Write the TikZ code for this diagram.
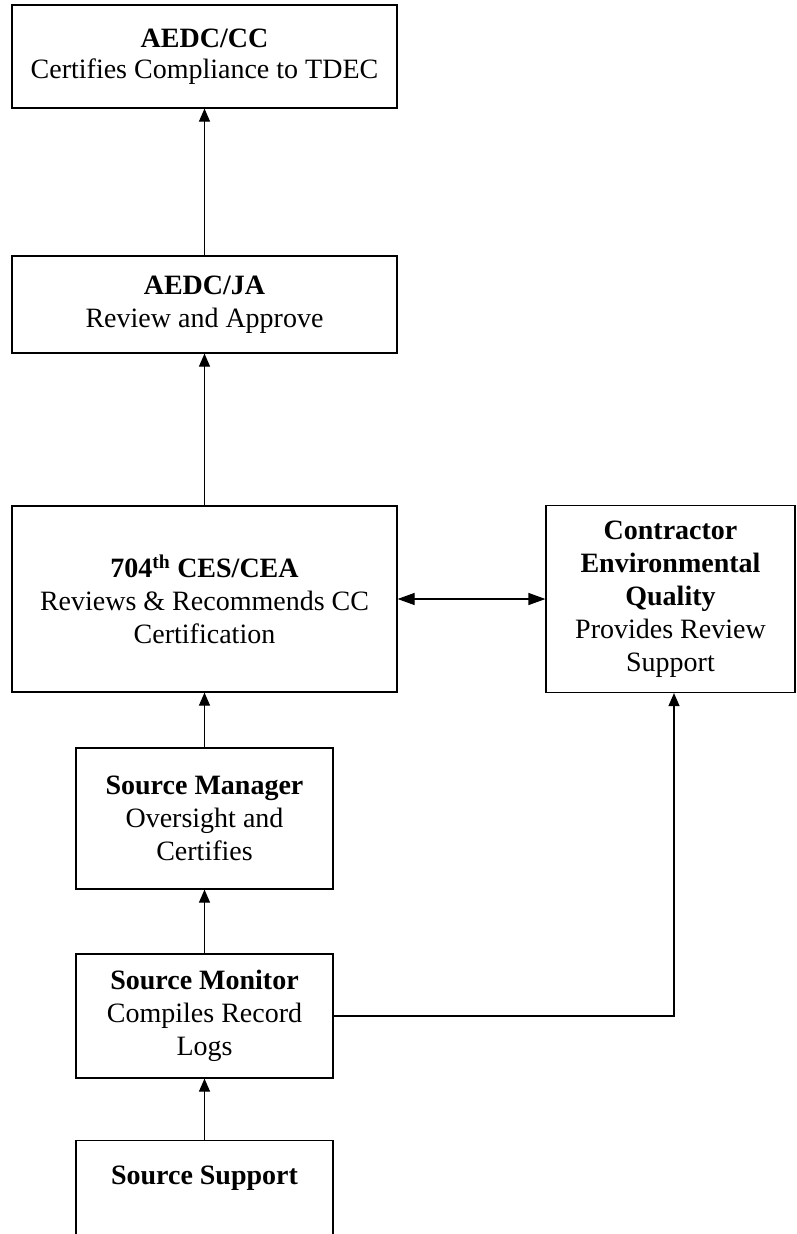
\documentclass[tikz,border=0pt]{standalone}
\usepackage{fontspec}
\setmainfont{Liberation Serif}
\usetikzlibrary{arrows.meta}
\tikzset{
  box/.style={draw, line width=1.2pt, rectangle, inner sep=0pt, align=center,
    font=\fontsize{28}{33}\selectfont},
  arr/.style={line width=1.2pt, -{Triangle[length=13pt,width=11pt]}},
  harr/.style={line width=1.2pt, {Triangle[length=17pt,width=12pt]}-{Triangle[length=17pt,width=12pt]}},
}
\begin{document}
\begin{tikzpicture}[x=1pt,y=-1pt]
\useasboundingbox (0,0) rectangle (796,1234);
\clip (0,0) rectangle (796,1234);
\node[box, minimum width=385pt, minimum height=103pt,
  font=\fontsize{28}{31}\selectfont] (cc) at (204.5,56.5)
  {\textbf{AEDC/CC}\\Certifies Compliance to TDEC};
\node[box, minimum width=385pt, minimum height=97pt] (ja) at (204.5,304.5)
  {\textbf{AEDC/JA}\\Review and Approve};
\node[box, minimum width=385pt, minimum height=186pt] (ces) at (204.5,599)
  {\textbf{704\textsuperscript{th} CES/CEA}\\Reviews \& Recommends CC\\Certification};
\node[box, minimum width=249pt, minimum height=187pt] (ceq) at (670.5,599)
  {\textbf{Contractor}\\\textbf{Environmental}\\\textbf{Quality}\\Provides Review\\Support};
\node[box, minimum width=257pt, minimum height=141pt] (sman) at (204.5,818.5)
  {\textbf{Source Manager}\\Oversight and\\Certifies};
\node[box, minimum width=257pt, minimum height=124pt] (smon) at (204.5,1016)
  {\textbf{Source Monitor}\\Compiles Record\\Logs};
\node[box, minimum width=257pt, minimum height=146pt, anchor=north] (ssup) at (204.5,1140)
  {\textbf{Source Support}\\\strut\\\strut};
\coordinate (ceqin) at ([xshift=3.5pt]ceq.south);
\draw[arr] (ja) -- (cc);
\draw[arr] (ces) -- (ja);
\draw[harr] (ces.east) -- (ceq.west);
\draw[arr] (sman) -- (ces);
\draw[arr] (smon) -- (sman);
\draw[arr] (ssup) -- (smon);
\draw[arr] (smon.east) -| (ceqin);
\end{tikzpicture}
\end{document}
